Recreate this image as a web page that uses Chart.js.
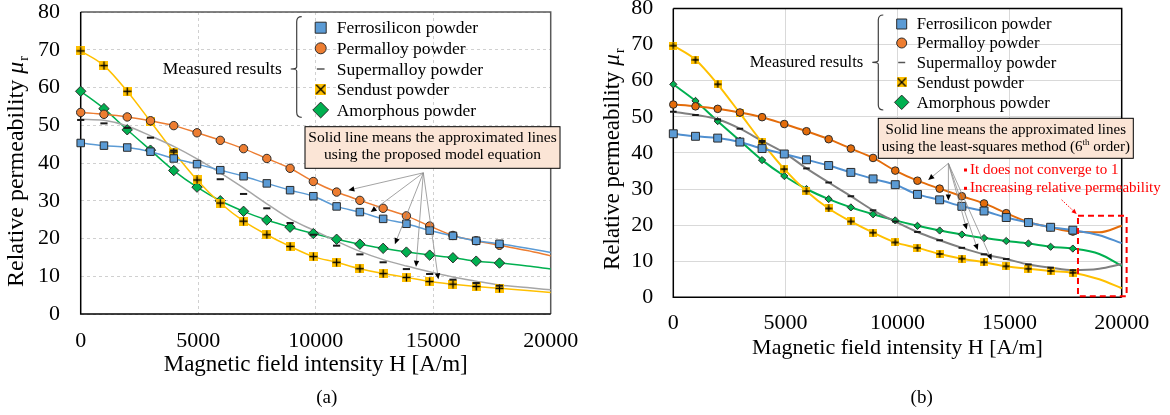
<!DOCTYPE html>
<html>
<head>
<meta charset="utf-8">
<script src="https://cdn.jsdelivr.net/npm/chart.js@4.4.0/dist/chart.umd.min.js"></script>
<style>
  html, body { margin: 0; padding: 0; background: #fff; }
  body { width: 1170px; height: 415px; position: relative; overflow: hidden; }
  canvas { position: absolute; top: 0; }
  #chartA { left: 0; }
  #chartB { left: 585px; }
</style>
</head>
<body>
<canvas id="chartA" width="585" height="415"></canvas>
<canvas id="chartB" width="585" height="415"></canvas>
<script>
// Measured relative permeability of five powder cores vs. field intensity H [A/m]
const materials = ['Ferrosilicon powder', 'Permalloy powder', 'Supermalloy powder', 'Sendust powder', 'Amorphous powder'];
const fieldH = [0, 990, 1980, 2970, 3960, 4950, 5940, 6930, 7920, 8910, 9900, 10890, 11880, 12870, 13860, 14850, 15840, 16830, 17820];
const ferrosilicon = [45.3, 44.6, 44.1, 43.0, 41.2, 39.7, 38.1, 36.5, 34.6, 32.8, 31.2, 28.5, 27.0, 25.2, 23.9, 22.1, 20.7, 19.4, 18.6];
const permalloy = [53.4, 52.9, 52.2, 51.2, 49.9, 48.0, 46.0, 43.8, 41.2, 38.6, 35.1, 32.3, 30.1, 28.0, 26.0, 23.3, 20.8, 19.4, 18.2];
const supermalloy = [51.4, 50.5, 49.3, 46.7, 43.3, 40.0, 35.7, 31.8, 28.0, 24.1, 21.0, 18.1, 15.8, 13.7, 11.9, 10.6, 9.1, 8.2, 7.5];
const sendust = [69.7, 65.8, 59.0, 51.0, 42.9, 35.5, 29.4, 24.6, 21.0, 17.9, 15.2, 13.7, 12.0, 10.7, 9.7, 8.6, 7.9, 7.3, 6.8];
const amorphous = [59.0, 54.4, 48.8, 43.4, 38.0, 33.6, 30.0, 27.2, 24.9, 23.0, 21.3, 19.8, 18.5, 17.4, 16.4, 15.6, 14.9, 14.0, 13.5];

// approximated curves continue past the last measurement
const tailH = [19000, 20000];
const fitH = fieldH.concat(tailH);

// (a) proposed model equation
const modelTailFerro = [17.4, 16.3];
const modelTailPerm = [16.8, 15.4];
const modelTailSendust = [6.2, 5.7];
const modelTailAmorph = [12.7, 11.9];
const modelSuper = [51.6, 51.3, 49.8, 47.2, 44.4, 41.1, 37.4, 33.4, 29.2, 25.2, 22.2, 19.3, 16.6, 14.4, 12.7, 11.2, 9.8, 8.7, 7.7, 7.0, 6.4];

// (b) least-squares 6th order polynomial
const polyTailFerro = [17.2, 15.0];
const polyTailPerm = [18.0, 19.8];
const polyTailSuper = [7.9, 9.2];
const polyTailSendust = [5.0, 2.5];
const polyTailAmorph = [12.0, 8.7];

const yTicks = [0, 10, 20, 30, 40, 50, 60, 70, 80];
const xTicks = [0, 5000, 10000, 15000, 20000];

const SERIF = '"Liberation Serif", "Times New Roman", serif';
const BLUE = '#5b9bd5', ORANGE = '#ed7d31', YELLOW = '#ffc000', GREEN = '#00b050';
const EDGE = '#2b2b2b';

function points(xs, ys) {
  return xs.map((x, i) => ({ x: x, y: ys[i] }));
}

// yellow square with a black cross, used for the Sendust markers
function sendustMark(size, rotated) {
  const c = document.createElement('canvas');
  c.width = c.height = size;
  const g = c.getContext('2d');
  g.fillStyle = YELLOW;
  g.fillRect(0, 0, size, size);
  g.strokeStyle = '#000';
  g.lineWidth = 1.3;
  g.beginPath();
  if (rotated) {
    g.moveTo(1, 1); g.lineTo(size - 1, size - 1);
    g.moveTo(size - 1, 1); g.lineTo(1, size - 1);
  } else {
    g.moveTo(size / 2, 0.5); g.lineTo(size / 2, size - 0.5);
    g.moveTo(0.5, size / 2); g.lineTo(size - 0.5, size / 2);
  }
  g.stroke();
  return c;
}

function measured(ys, st) {
  return {
    data: points(fieldH, ys), showLine: false, order: 1, clip: false,
    pointStyle: st.style, pointRadius: st.r, pointHoverRadius: st.r,
    pointBackgroundColor: st.fill || '#000', pointBorderColor: st.edge || EDGE,
    pointBorderWidth: st.bw === undefined ? 1 : st.bw
  };
}

function fitted(ys, color, width) {
  return {
    data: points(fitH, ys), showLine: true, borderColor: color, borderWidth: width,
    pointRadius: 0, pointHoverRadius: 0, cubicInterpolationMode: 'monotone',
    order: 2, clip: 4
  };
}

function axes(g) {
  return {
    x: {
      type: 'linear', min: 0, max: 20000,
      afterBuildTicks: s => { s.ticks = xTicks.map(v => ({ value: v })); },
      ticks: {
        color: '#000', padding: g.xTickPad, maxRotation: 0, autoSkip: false,
        font: { family: SERIF, size: g.tickSize, lineHeight: 1.2 },
        callback: v => String(v)
      },
      grid: { color: g.gridColor, lineWidth: 1, drawTicks: false },
      border: { display: false, dash: g.gridDash },
      title: {
        display: true, text: 'Magnetic field intensity H [A/m]', color: '#000', padding: 0,
        font: { family: SERIF, size: g.xTitleSize, lineHeight: 1.2 }
      },
      afterFit: s => { s.height = g.xAxisHeight; s.paddingLeft = 0; s.paddingRight = 0; }
    },
    y: {
      type: 'linear', min: 0, max: 80,
      afterBuildTicks: s => { s.ticks = yTicks.map(v => ({ value: v })); },
      ticks: {
        color: '#000', padding: g.yTickPad,
        font: { family: SERIF, size: g.tickSize, lineHeight: 1.2 },
        callback: v => String(v)
      },
      grid: { color: g.gridColor, lineWidth: 1, drawTicks: false },
      border: { display: false, dash: g.gridDash },
      afterFit: s => { s.width = g.yAxisWidth; s.paddingTop = 0; s.paddingBottom = 0; }
    }
  };
}

// plot frame: left/bottom axes plus the closing top/right edges
const frame = {
  id: 'frame',
  beforeDatasetsDraw(chart, args, o) {
    const { ctx, chartArea: a } = chart;
    ctx.save();
    ctx.lineWidth = 1.5;
    ctx.strokeStyle = o.far;
    ctx.beginPath();
    ctx.moveTo(a.left, a.top); ctx.lineTo(a.right, a.top); ctx.lineTo(a.right, a.bottom);
    ctx.stroke();
    ctx.strokeStyle = '#000';
    ctx.beginPath();
    ctx.moveTo(a.left, a.top); ctx.lineTo(a.left, a.bottom); ctx.lineTo(a.right, a.bottom);
    ctx.stroke();
    ctx.restore();
  }
};

function px(chart, h, m) {
  return [chart.scales.x.getPixelForValue(h), chart.scales.y.getPixelForValue(m)];
}

function drawArrow(ctx, p1, p2, o) {
  const ang = Math.atan2(p2[1] - p1[1], p2[0] - p1[0]);
  const hl = o.head;
  const bx = p2[0] - Math.cos(ang) * hl, by = p2[1] - Math.sin(ang) * hl;
  ctx.strokeStyle = o.line;
  ctx.lineWidth = o.width;
  ctx.setLineDash(o.dash || []);
  ctx.beginPath();
  ctx.moveTo(p1[0], p1[1]);
  ctx.lineTo(bx, by);
  ctx.stroke();
  ctx.setLineDash([]);
  ctx.fillStyle = o.fill;
  ctx.beginPath();
  ctx.moveTo(p2[0], p2[1]);
  ctx.lineTo(bx + Math.sin(ang) * hl * 0.45, by - Math.cos(ang) * hl * 0.45);
  ctx.lineTo(bx - Math.sin(ang) * hl * 0.45, by + Math.cos(ang) * hl * 0.45);
  ctx.closePath();
  ctx.fill();
}

function yTitle(ctx, x, yBottom, size) {
  ctx.save();
  ctx.translate(x, yBottom);
  ctx.rotate(-Math.PI / 2);
  ctx.fillStyle = '#000';
  ctx.textAlign = 'left';
  ctx.textBaseline = 'middle';
  ctx.font = size + 'px ' + SERIF;
  const main = 'Relative permeability ';
  ctx.fillText(main, 0, 0);
  let w = ctx.measureText(main).width;
  ctx.font = 'italic ' + size + 'px ' + SERIF;
  ctx.fillText('μ', w, 0);
  w += ctx.measureText('μ').width + 1;
  ctx.font = Math.round(size * 0.6) + 'px ' + SERIF;
  ctx.fillText('r', w, size * 0.3);
  ctx.restore();
}

function legendMark(ctx, kind, x, y, s) {
  ctx.lineWidth = 1;
  ctx.strokeStyle = EDGE;
  ctx.beginPath();
  if (kind === 0) {
    ctx.rect(x - s / 2, y - s / 2, s, s);
    ctx.fillStyle = BLUE; ctx.fill(); ctx.stroke();
  } else if (kind === 1) {
    ctx.arc(x, y, s / 2, 0, Math.PI * 2);
    ctx.fillStyle = ORANGE; ctx.fill(); ctx.stroke();
  } else if (kind === 2) {
    ctx.strokeStyle = '#555';
    ctx.lineWidth = 1.5;
    ctx.moveTo(x - s * 0.35, y); ctx.lineTo(x + s * 0.35, y);
    ctx.stroke();
  } else if (kind === 3) {
    ctx.drawImage(sendustMark(Math.round(s), true), x - s / 2, y - s / 2);
  } else {
    const d = s * 0.72;
    ctx.moveTo(x, y - d); ctx.lineTo(x + d, y); ctx.lineTo(x, y + d); ctx.lineTo(x - d, y);
    ctx.closePath();
    ctx.fillStyle = GREEN; ctx.fill(); ctx.stroke();
  }
}

function drawLegend(ctx, L) {
  ctx.save();
  // brace grouping the measured series
  const bx = L.braceX;
  ctx.strokeStyle = '#404040';
  ctx.lineWidth = 1.2;
  ctx.beginPath();
  ctx.moveTo(bx + 5, L.top);
  ctx.quadraticCurveTo(bx, L.top, bx, L.top + 5);
  ctx.lineTo(bx, L.mid - 2);
  ctx.quadraticCurveTo(bx, L.mid, bx - 6, L.mid);
  ctx.quadraticCurveTo(bx, L.mid, bx, L.mid + 2);
  ctx.lineTo(bx, L.bottom - 5);
  ctx.quadraticCurveTo(bx, L.bottom, bx + 5, L.bottom);
  ctx.stroke();

  ctx.fillStyle = '#000';
  ctx.textBaseline = 'middle';
  ctx.font = L.size + 'px ' + SERIF;
  ctx.textAlign = 'right';
  ctx.fillText('Measured results', L.labelRight, L.mid);
  ctx.textAlign = 'left';
  materials.forEach((name, i) => {
    legendMark(ctx, i, L.markerX, L.rows[i], L.mark);
    ctx.fillStyle = '#000';
    ctx.fillText(name, L.textX, L.rows[i] + 1);
  });
  ctx.restore();
}

function noteBox(ctx, box, size, lines) {
  ctx.save();
  ctx.fillStyle = '#fbe5d6';
  ctx.strokeStyle = '#000';
  ctx.lineWidth = 1;
  ctx.fillRect(box.x, box.y, box.w, box.h);
  ctx.strokeRect(box.x, box.y, box.w, box.h);
  ctx.fillStyle = '#000';
  ctx.textBaseline = 'middle';
  ctx.textAlign = 'left';
  const cx = box.x + box.w / 2;
  lines.forEach((parts, i) => {
    const y = box.lineY[i];
    let total = 0;
    parts.forEach(p => {
      ctx.font = (p.sup ? Math.round(size * 0.62) : size) + 'px ' + SERIF;
      total += ctx.measureText(p.t).width;
    });
    let x = cx - total / 2;
    parts.forEach(p => {
      const fs = p.sup ? Math.round(size * 0.62) : size;
      ctx.font = fs + 'px ' + SERIF;
      ctx.fillText(p.t, x, p.sup ? y - size * 0.3 : y);
      x += ctx.measureText(p.t).width;
    });
  });
  ctx.restore();
}

function caption(ctx, text, x, y) {
  ctx.save();
  ctx.fillStyle = '#000';
  ctx.font = '19px ' + SERIF;
  ctx.textAlign = 'center';
  ctx.textBaseline = 'middle';
  ctx.fillText(text, x, y);
  ctx.restore();
}

const greyArrow = { line: '#8c8c8c', width: 0.8, fill: '#000', head: 6 };

// ---------- (a) proposed model equation ----------
const overlayA = {
  id: 'overlayA',
  afterDraw(chart) {
    const ctx = chart.ctx;
    yTitle(ctx, 17, 287, 24);
    drawLegend(ctx, {
      braceX: 296.7, top: 16.7, bottom: 117.3, mid: 69, labelRight: 281.7,
      markerX: 320.7, textX: 336.7, rows: [27.7, 48.3, 69, 89.3, 110], size: 17.5, mark: 11
    });
    noteBox(ctx, { x: 305, y: 126.7, w: 255, h: 41.6, lineY: [137.5, 155] }, 15.5, [
      [{ t: 'Solid line means the approximated lines' }],
      [{ t: 'using the proposed model equation' }]
    ]);
    const from = px(chart, 14580, 37.4);
    [[11390, 32.8], [12340, 27.0], [13370, 18.5], [14270, 12.5], [15220, 9.2]].forEach(t => {
      drawArrow(ctx, from, px(chart, t[0], t[1]), greyArrow);
    });
    caption(ctx, '(a)', 326.7, 398);
  }
};

new Chart(document.getElementById('chartA'), {
  type: 'scatter',
  data: {
    datasets: [
      fitted(ferrosilicon.concat(modelTailFerro), BLUE, 1.5),
      fitted(permalloy.concat(modelTailPerm), ORANGE, 1.5),
      fitted(modelSuper, '#a6a6a6', 1.5),
      fitted(sendust.concat(modelTailSendust), YELLOW, 1.5),
      fitted(amorphous.concat(modelTailAmorph), GREEN, 1.5),
      measured(ferrosilicon, { style: 'rect', r: 5.3, fill: BLUE }),
      measured(permalloy, { style: 'circle', r: 4.2, fill: ORANGE }),
      measured(supermalloy, { style: 'line', r: 3.6, edge: '#1a1a1a', bw: 2 }),
      measured(sendust, { style: sendustMark(9, false), r: 4.5 }),
      measured(amorphous, { style: 'rectRot', r: 5.2, fill: GREEN })
    ]
  },
  options: {
    responsive: false, animation: false, events: [],
    layout: { padding: { left: 0, top: 12, right: 34.3, bottom: 36.2 } },
    plugins: { legend: { display: false }, tooltip: { enabled: false }, frame: { far: '#595959' } },
    scales: axes({
      tickSize: 22, xTickPad: 14.5, yTickPad: 20.7, xTitleSize: 23,
      xAxisHeight: 64.8, yAxisWidth: 80.7, gridColor: '#d0d0d0', gridDash: [3, 3]
    })
  },
  plugins: [frame, overlayA]
});

// ---------- (b) least-squares polynomial ----------
const overlayB = {
  id: 'overlayB',
  afterDraw(chart) {
    const ctx = chart.ctx;
    yTitle(ctx, 28, 270, 23);
    drawLegend(ctx, {
      braceX: 293.3, top: 15, bottom: 110, mid: 62.3, labelRight: 278.3,
      markerX: 316.7, textX: 331.7, rows: [24, 43, 62.5, 82.3, 102.3], size: 16.7, mark: 10
    });
    noteBox(ctx, { x: 293.3, y: 118.3, w: 255, h: 40, lineY: [130, 147] }, 15, [
      [{ t: 'Solid line means the approximated lines' }],
      [{ t: 'using the least-squares method (6' }, { t: 'th', sup: true }, { t: ' order)' }]
    ]);
    const from = px(chart, 12270, 37.1);
    [[11370, 32.5], [12270, 26.8], [13090, 18.8], [13580, 13.1], [14200, 10.3]].forEach(t => {
      drawArrow(ctx, from, px(chart, t[0], t[1]), greyArrow);
    });

    // notes on the polynomial tail
    ctx.save();
    ctx.fillStyle = '#ff0000';
    ctx.font = '15px ' + SERIF;
    ctx.textBaseline = 'middle';
    ctx.textAlign = 'left';
    [['It does not converge to 1', 170], ['Increasing relative permeability', 188.3]].forEach(r => {
      ctx.fillRect(379, r[1] - 1.5, 3, 3);
      ctx.fillText(r[0], 385, r[1]);
    });
    const c1 = px(chart, 18050, 22.6), c2 = px(chart, 20220, 0.3);
    ctx.strokeStyle = '#ff0000';
    ctx.lineWidth = 2;
    ctx.setLineDash([6, 4]);
    ctx.strokeRect(c1[0], c1[1], c2[0] - c1[0], c2[1] - c1[1]);
    ctx.restore();
    ctx.save();
    drawArrow(ctx, px(chart, 17320, 27.0), px(chart, 17990, 23.1),
      { line: '#ff0000', width: 1, dash: [1.5, 1.5], fill: '#ff0000', head: 5 });
    ctx.restore();
    caption(ctx, '(b)', 336.7, 398);
  }
};

new Chart(document.getElementById('chartB'), {
  type: 'scatter',
  data: {
    datasets: [
      fitted(ferrosilicon.concat(polyTailFerro), '#4f8fd0', 2),
      fitted(permalloy.concat(polyTailPerm), '#e46c0a', 2),
      fitted(supermalloy.concat(polyTailSuper), '#808080', 2),
      fitted(sendust.concat(polyTailSendust), YELLOW, 2),
      fitted(amorphous.concat(polyTailAmorph), GREEN, 2),
      measured(ferrosilicon, { style: 'rect', r: 5.6, fill: BLUE }),
      measured(permalloy, { style: 'circle', r: 3.8, fill: '#e46c0a' }),
      measured(supermalloy, { style: 'line', r: 3.3, edge: '#1a1a1a', bw: 2 }),
      measured(sendust, { style: sendustMark(8, false), r: 4 }),
      measured(amorphous, { style: 'rectRot', r: 3.6, fill: GREEN })
    ]
  },
  options: {
    responsive: false, animation: false, events: [],
    layout: { padding: { left: 0, top: 8.5, right: 48.3, bottom: 53.5 } },
    plugins: { legend: { display: false }, tooltip: { enabled: false }, frame: { far: '#000' } },
    scales: axes({
      tickSize: 22, xTickPad: 12.8, yTickPad: 20, xTitleSize: 22,
      xAxisHeight: 64.2, yAxisWidth: 88.3, gridColor: '#d9d9d9', gridDash: []
    })
  },
  plugins: [frame, overlayB]
});
</script>
</body>
</html>
